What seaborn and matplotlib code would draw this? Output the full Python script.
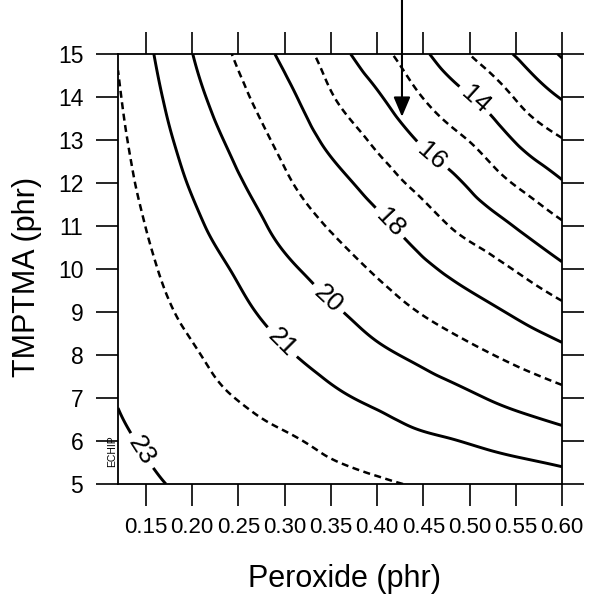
import numpy as np
import pandas as pd
import matplotlib
matplotlib.use("Agg")
import matplotlib.pyplot as plt
import matplotlib.tri as mtri
import seaborn as sns

# ---------------- data ----------------
peroxide = [0.12, 0.16, 0.20, 0.24, 0.28, 0.32, 0.36, 0.40, 0.44, 0.48, 0.52, 0.56, 0.60]
tmptma = [5, 6, 7, 8, 9, 10, 11, 12, 13, 14, 15]

# response estimated at each grid node, one list per TMPTMA level
resp_t05 = [23.25, 23.06, 22.86, 22.68, 22.50, 22.34, 22.22, 22.11, 21.95, 21.82, 21.68, 21.56, 21.41]
resp_t06 = [23.11, 22.87, 22.60, 22.36, 22.17, 22.00, 21.73, 21.49, 21.21, 21.04, 20.83, 20.61, 20.38]
resp_t07 = [22.97, 22.66, 22.34, 22.04, 21.78, 21.46, 21.11, 20.82, 20.54, 20.30, 19.97, 19.64, 19.32]
resp_t08 = [22.85, 22.45, 22.09, 21.70, 21.31, 20.92, 20.57, 20.20, 19.86, 19.46, 19.06, 18.67, 18.29]
resp_t09 = [22.72, 22.25, 21.79, 21.36, 20.86, 20.44, 20.04, 19.54, 19.05, 18.61, 18.20, 17.75, 17.28]
resp_t10 = [22.59, 22.04, 21.49, 21.01, 20.44, 19.95, 19.41, 18.87, 18.34, 17.81, 17.34, 16.80, 16.18]
resp_t11 = [22.46, 21.83, 21.20, 20.64, 20.02, 19.36, 18.79, 18.26, 17.62, 16.97, 16.42, 15.79, 15.14]
resp_t12 = [22.33, 21.61, 20.91, 20.27, 19.56, 18.81, 18.22, 17.55, 16.85, 16.24, 15.47, 14.76, 14.08]
resp_t13 = [22.20, 21.40, 20.61, 19.89, 19.10, 18.34, 17.56, 16.81, 16.04, 15.30, 14.59, 13.72, 13.05]
resp_t14 = [22.08, 21.18, 20.31, 19.48, 18.65, 17.85, 16.86, 16.12, 15.20, 14.39, 13.65, 12.69, 11.93]
resp_t15 = [21.95, 20.97, 20.02, 19.07, 18.20, 17.31, 16.27, 15.38, 14.42, 13.45, 12.55, 11.73, 10.90]

labeled_levels = [14, 16, 18, 20, 21, 23]      # solid, labelled
plain_solid_levels = [12]                      # solid, no label
dashed_levels = [11, 13, 15, 17, 19, 22]       # dashed, no label

x_ticks = [0.15, 0.20, 0.25, 0.30, 0.35, 0.40, 0.45, 0.50, 0.55, 0.60]
x_ticklabels = ["0.15", "0.20", "0.25", "0.30", "0.35", "0.40", "0.45", "0.50", "0.55", "0.60"]
y_ticks = [5, 6, 7, 8, 9, 10, 11, 12, 13, 14, 15]

# ---------------- styling ----------------
sns.set_theme(style="ticks", rc={
    "axes.edgecolor": "black",
    "xtick.color": "black",
    "ytick.color": "black",
    "text.color": "black",
    "axes.labelcolor": "black",
})
plt.rcParams["font.family"] = ["Liberation Sans", "DejaVu Sans"]

fig = plt.figure(figsize=(5.9, 5.98), dpi=100)
ax = fig.add_axes([118 / 590, 1 - 484 / 598, 444 / 590, 430 / 598])

grid = pd.DataFrame(
    [resp_t05, resp_t06, resp_t07, resp_t08, resp_t09, resp_t10,
     resp_t11, resp_t12, resp_t13, resp_t14, resp_t15],
    index=tmptma, columns=peroxide)

X, Y = np.meshgrid(np.array(peroxide), np.array(tmptma))
Z = grid.values

# triangulate in normalised coordinates so the smoothing is isotropic
dx = peroxide[1] - peroxide[0]
u = (X.ravel() - peroxide[0]) / dx
v = Y.ravel() - tmptma[0]
tri_n = mtri.Triangulation(u, v)
refiner = mtri.UniformTriRefiner(tri_n)
tri_r, z_r = refiner.refine_field(Z.ravel(), subdiv=4)
tri_d = mtri.Triangulation(tri_r.x * dx + peroxide[0], tri_r.y + tmptma[0], tri_r.triangles)

ax.tricontour(tri_d, z_r, levels=dashed_levels, colors="black",
              linestyles=[(0, (2.8, 1.8))], linewidths=1.8)
ax.tricontour(tri_d, z_r, levels=plain_solid_levels, colors="black",
              linestyles="solid", linewidths=2.1)
cs = ax.tricontour(tri_d, z_r, levels=labeled_levels, colors="black",
                   linestyles="solid", linewidths=2.1)

label_spots = [(0.509, 14.0), (0.465, 12.77), (0.417, 11.14),
               (0.349, 9.35), (0.303, 8.42), (0.152, 5.86)]
ax.clabel(cs, fmt="%d", fontsize=19, inline=True, inline_spacing=6,
          manual=label_spots)

ax.set_xlim(peroxide[0], peroxide[-1])
ax.set_ylim(tmptma[0], tmptma[-1])
ax.set_xticks(x_ticks)
ax.set_xticklabels(x_ticklabels)
ax.set_yticks(y_ticks)
ax.tick_params(axis="both", which="major", direction="out", length=16, width=1.2,
               top=True, right=True, labeltop=False, labelright=False)
ax.tick_params(axis="x", labelsize=16, pad=8)
ax.tick_params(axis="y", labelsize=16.5, pad=9)
for sp in ax.spines.values():
    sp.set_linewidth(1.3)
    sp.set_color("black")

ax.set_xlabel("Peroxide (phr)", fontsize=22)
ax.set_ylabel("TMPTMA (phr)", fontsize=22)
ax.xaxis.set_label_coords(0.51, -0.186)
ax.yaxis.set_label_coords(-0.171, 0.481)

# arrow from top edge pointing at the 16 contour
ax.annotate("", xy=(0.427, 13.54), xycoords="data",
            xytext=(0.427, 1.0), textcoords=("data", "figure fraction"),
            arrowprops=dict(arrowstyle="-|>,head_length=0.4,head_width=0.17",
                            color="black", lw=1.5, mutation_scale=30,
                            shrinkA=0, shrinkB=0),
            annotation_clip=False)

ax.text(-0.0135, 0.077, "ECHIP", transform=ax.transAxes, rotation=90,
        fontsize=7.5, ha="center", va="center")

fig.savefig("out.png", dpi=100)
